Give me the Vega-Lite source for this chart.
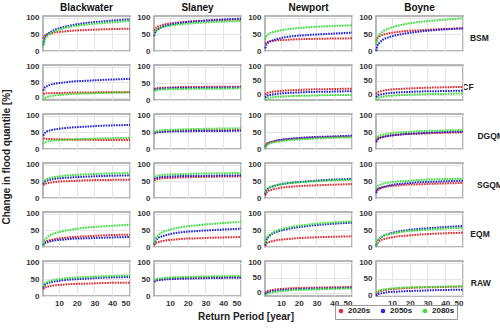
{
"$schema": "https://vega.github.io/schema/vega-lite/v6.json",
"padding": {"left": 1, "top": 3, "right": 40, "bottom": 2},
"bounds": "flush",
"data": {"values": [
{"m":"BSM","c":"Blackwater","p":"2020s","T":1.1,"v":38},{"m":"BSM","c":"Blackwater","p":"2020s","T":2,"v":46},{"m":"BSM","c":"Blackwater","p":"2020s","T":3,"v":49},{"m":"BSM","c":"Blackwater","p":"2020s","T":5,"v":52},{"m":"BSM","c":"Blackwater","p":"2020s","T":8,"v":56},{"m":"BSM","c":"Blackwater","p":"2020s","T":12,"v":58},{"m":"BSM","c":"Blackwater","p":"2020s","T":18,"v":61},{"m":"BSM","c":"Blackwater","p":"2020s","T":25,"v":63},{"m":"BSM","c":"Blackwater","p":"2020s","T":35,"v":65},{"m":"BSM","c":"Blackwater","p":"2020s","T":50,"v":67},
{"m":"BSM","c":"Blackwater","p":"2050s","T":1.1,"v":18},{"m":"BSM","c":"Blackwater","p":"2050s","T":2,"v":38},{"m":"BSM","c":"Blackwater","p":"2050s","T":3,"v":47},{"m":"BSM","c":"Blackwater","p":"2050s","T":5,"v":56},{"m":"BSM","c":"Blackwater","p":"2050s","T":8,"v":65},{"m":"BSM","c":"Blackwater","p":"2050s","T":12,"v":71},{"m":"BSM","c":"Blackwater","p":"2050s","T":18,"v":78},{"m":"BSM","c":"Blackwater","p":"2050s","T":25,"v":84},{"m":"BSM","c":"Blackwater","p":"2050s","T":35,"v":89},{"m":"BSM","c":"Blackwater","p":"2050s","T":50,"v":95},
{"m":"BSM","c":"Blackwater","p":"2080s","T":1.1,"v":15},{"m":"BSM","c":"Blackwater","p":"2080s","T":2,"v":35},{"m":"BSM","c":"Blackwater","p":"2080s","T":3,"v":43},{"m":"BSM","c":"Blackwater","p":"2080s","T":5,"v":52},{"m":"BSM","c":"Blackwater","p":"2080s","T":8,"v":60},{"m":"BSM","c":"Blackwater","p":"2080s","T":12,"v":67},{"m":"BSM","c":"Blackwater","p":"2080s","T":18,"v":74},{"m":"BSM","c":"Blackwater","p":"2080s","T":25,"v":79},{"m":"BSM","c":"Blackwater","p":"2080s","T":35,"v":84},{"m":"BSM","c":"Blackwater","p":"2080s","T":50,"v":90},
{"m":"BSM","c":"Slaney","p":"2020s","T":1.1,"v":60},{"m":"BSM","c":"Slaney","p":"2020s","T":2,"v":69},{"m":"BSM","c":"Slaney","p":"2020s","T":3,"v":73},{"m":"BSM","c":"Slaney","p":"2020s","T":5,"v":77},{"m":"BSM","c":"Slaney","p":"2020s","T":8,"v":81},{"m":"BSM","c":"Slaney","p":"2020s","T":12,"v":84},{"m":"BSM","c":"Slaney","p":"2020s","T":18,"v":87},{"m":"BSM","c":"Slaney","p":"2020s","T":25,"v":90},{"m":"BSM","c":"Slaney","p":"2020s","T":35,"v":92},{"m":"BSM","c":"Slaney","p":"2020s","T":50,"v":95},
{"m":"BSM","c":"Slaney","p":"2050s","T":1.1,"v":45},{"m":"BSM","c":"Slaney","p":"2050s","T":2,"v":59},{"m":"BSM","c":"Slaney","p":"2050s","T":3,"v":64},{"m":"BSM","c":"Slaney","p":"2050s","T":5,"v":71},{"m":"BSM","c":"Slaney","p":"2050s","T":8,"v":77},{"m":"BSM","c":"Slaney","p":"2050s","T":12,"v":81},{"m":"BSM","c":"Slaney","p":"2050s","T":18,"v":86},{"m":"BSM","c":"Slaney","p":"2050s","T":25,"v":89},{"m":"BSM","c":"Slaney","p":"2050s","T":35,"v":93},{"m":"BSM","c":"Slaney","p":"2050s","T":50,"v":97},
{"m":"BSM","c":"Slaney","p":"2080s","T":1.1,"v":50},{"m":"BSM","c":"Slaney","p":"2080s","T":2,"v":60},{"m":"BSM","c":"Slaney","p":"2080s","T":3,"v":65},{"m":"BSM","c":"Slaney","p":"2080s","T":5,"v":70},{"m":"BSM","c":"Slaney","p":"2080s","T":8,"v":74},{"m":"BSM","c":"Slaney","p":"2080s","T":12,"v":78},{"m":"BSM","c":"Slaney","p":"2080s","T":18,"v":81},{"m":"BSM","c":"Slaney","p":"2080s","T":25,"v":84},{"m":"BSM","c":"Slaney","p":"2080s","T":35,"v":87},{"m":"BSM","c":"Slaney","p":"2080s","T":50,"v":90},
{"m":"BSM","c":"Newport","p":"2020s","T":1.1,"v":22},{"m":"BSM","c":"Newport","p":"2020s","T":2,"v":26},{"m":"BSM","c":"Newport","p":"2020s","T":3,"v":28},{"m":"BSM","c":"Newport","p":"2020s","T":5,"v":30},{"m":"BSM","c":"Newport","p":"2020s","T":8,"v":32},{"m":"BSM","c":"Newport","p":"2020s","T":12,"v":33},{"m":"BSM","c":"Newport","p":"2020s","T":18,"v":35},{"m":"BSM","c":"Newport","p":"2020s","T":25,"v":36},{"m":"BSM","c":"Newport","p":"2020s","T":35,"v":37},{"m":"BSM","c":"Newport","p":"2020s","T":50,"v":38},
{"m":"BSM","c":"Newport","p":"2050s","T":1.1,"v":8},{"m":"BSM","c":"Newport","p":"2050s","T":2,"v":20},{"m":"BSM","c":"Newport","p":"2050s","T":3,"v":26},{"m":"BSM","c":"Newport","p":"2050s","T":5,"v":31},{"m":"BSM","c":"Newport","p":"2050s","T":8,"v":36},{"m":"BSM","c":"Newport","p":"2050s","T":12,"v":41},{"m":"BSM","c":"Newport","p":"2050s","T":18,"v":45},{"m":"BSM","c":"Newport","p":"2050s","T":25,"v":48},{"m":"BSM","c":"Newport","p":"2050s","T":35,"v":51},{"m":"BSM","c":"Newport","p":"2050s","T":50,"v":55},
{"m":"BSM","c":"Newport","p":"2080s","T":1.1,"v":35},{"m":"BSM","c":"Newport","p":"2080s","T":2,"v":46},{"m":"BSM","c":"Newport","p":"2080s","T":3,"v":51},{"m":"BSM","c":"Newport","p":"2080s","T":5,"v":56},{"m":"BSM","c":"Newport","p":"2080s","T":8,"v":60},{"m":"BSM","c":"Newport","p":"2080s","T":12,"v":64},{"m":"BSM","c":"Newport","p":"2080s","T":18,"v":68},{"m":"BSM","c":"Newport","p":"2080s","T":25,"v":71},{"m":"BSM","c":"Newport","p":"2080s","T":35,"v":74},{"m":"BSM","c":"Newport","p":"2080s","T":50,"v":77},
{"m":"BSM","c":"Boyne","p":"2020s","T":1.1,"v":30},{"m":"BSM","c":"Boyne","p":"2020s","T":2,"v":40},{"m":"BSM","c":"Boyne","p":"2020s","T":3,"v":44},{"m":"BSM","c":"Boyne","p":"2020s","T":5,"v":49},{"m":"BSM","c":"Boyne","p":"2020s","T":8,"v":53},{"m":"BSM","c":"Boyne","p":"2020s","T":12,"v":56},{"m":"BSM","c":"Boyne","p":"2020s","T":18,"v":60},{"m":"BSM","c":"Boyne","p":"2020s","T":25,"v":62},{"m":"BSM","c":"Boyne","p":"2020s","T":35,"v":65},{"m":"BSM","c":"Boyne","p":"2020s","T":50,"v":68},
{"m":"BSM","c":"Boyne","p":"2050s","T":1.1,"v":0},{"m":"BSM","c":"Boyne","p":"2050s","T":2,"v":18},{"m":"BSM","c":"Boyne","p":"2050s","T":3,"v":25},{"m":"BSM","c":"Boyne","p":"2050s","T":5,"v":34},{"m":"BSM","c":"Boyne","p":"2050s","T":8,"v":41},{"m":"BSM","c":"Boyne","p":"2050s","T":12,"v":47},{"m":"BSM","c":"Boyne","p":"2050s","T":18,"v":53},{"m":"BSM","c":"Boyne","p":"2050s","T":25,"v":58},{"m":"BSM","c":"Boyne","p":"2050s","T":35,"v":63},{"m":"BSM","c":"Boyne","p":"2050s","T":50,"v":68},
{"m":"BSM","c":"Boyne","p":"2080s","T":1.1,"v":20},{"m":"BSM","c":"Boyne","p":"2080s","T":2,"v":40},{"m":"BSM","c":"Boyne","p":"2080s","T":3,"v":49},{"m":"BSM","c":"Boyne","p":"2080s","T":5,"v":59},{"m":"BSM","c":"Boyne","p":"2080s","T":8,"v":67},{"m":"BSM","c":"Boyne","p":"2080s","T":12,"v":74},{"m":"BSM","c":"Boyne","p":"2080s","T":18,"v":81},{"m":"BSM","c":"Boyne","p":"2080s","T":25,"v":87},{"m":"BSM","c":"Boyne","p":"2080s","T":35,"v":92},{"m":"BSM","c":"Boyne","p":"2080s","T":50,"v":98},
{"m":"CF","c":"Blackwater","p":"2020s","T":1.1,"v":12},{"m":"CF","c":"Blackwater","p":"2020s","T":2,"v":13},{"m":"CF","c":"Blackwater","p":"2020s","T":3,"v":14},{"m":"CF","c":"Blackwater","p":"2020s","T":5,"v":14},{"m":"CF","c":"Blackwater","p":"2020s","T":8,"v":15},{"m":"CF","c":"Blackwater","p":"2020s","T":12,"v":15},{"m":"CF","c":"Blackwater","p":"2020s","T":18,"v":16},{"m":"CF","c":"Blackwater","p":"2020s","T":25,"v":16},{"m":"CF","c":"Blackwater","p":"2020s","T":35,"v":17},{"m":"CF","c":"Blackwater","p":"2020s","T":50,"v":17},
{"m":"CF","c":"Blackwater","p":"2050s","T":1.1,"v":22},{"m":"CF","c":"Blackwater","p":"2050s","T":2,"v":32},{"m":"CF","c":"Blackwater","p":"2050s","T":3,"v":36},{"m":"CF","c":"Blackwater","p":"2050s","T":5,"v":41},{"m":"CF","c":"Blackwater","p":"2050s","T":8,"v":45},{"m":"CF","c":"Blackwater","p":"2050s","T":12,"v":48},{"m":"CF","c":"Blackwater","p":"2050s","T":18,"v":52},{"m":"CF","c":"Blackwater","p":"2050s","T":25,"v":54},{"m":"CF","c":"Blackwater","p":"2050s","T":35,"v":57},{"m":"CF","c":"Blackwater","p":"2050s","T":50,"v":60},
{"m":"CF","c":"Blackwater","p":"2080s","T":1.1,"v":-8},{"m":"CF","c":"Blackwater","p":"2080s","T":2,"v":-2},{"m":"CF","c":"Blackwater","p":"2080s","T":3,"v":1},{"m":"CF","c":"Blackwater","p":"2080s","T":5,"v":4},{"m":"CF","c":"Blackwater","p":"2080s","T":8,"v":7},{"m":"CF","c":"Blackwater","p":"2080s","T":12,"v":9},{"m":"CF","c":"Blackwater","p":"2080s","T":18,"v":12},{"m":"CF","c":"Blackwater","p":"2080s","T":25,"v":13},{"m":"CF","c":"Blackwater","p":"2080s","T":35,"v":15},{"m":"CF","c":"Blackwater","p":"2080s","T":50,"v":17},
{"m":"CF","c":"Slaney","p":"2020s","T":1.1,"v":33},{"m":"CF","c":"Slaney","p":"2020s","T":2,"v":35},{"m":"CF","c":"Slaney","p":"2020s","T":3,"v":36},{"m":"CF","c":"Slaney","p":"2020s","T":5,"v":37},{"m":"CF","c":"Slaney","p":"2020s","T":8,"v":37},{"m":"CF","c":"Slaney","p":"2020s","T":12,"v":38},{"m":"CF","c":"Slaney","p":"2020s","T":18,"v":39},{"m":"CF","c":"Slaney","p":"2020s","T":25,"v":39},{"m":"CF","c":"Slaney","p":"2020s","T":35,"v":40},{"m":"CF","c":"Slaney","p":"2020s","T":50,"v":40},
{"m":"CF","c":"Slaney","p":"2050s","T":1.1,"v":30},{"m":"CF","c":"Slaney","p":"2050s","T":2,"v":32},{"m":"CF","c":"Slaney","p":"2050s","T":3,"v":33},{"m":"CF","c":"Slaney","p":"2050s","T":5,"v":34},{"m":"CF","c":"Slaney","p":"2050s","T":8,"v":35},{"m":"CF","c":"Slaney","p":"2050s","T":12,"v":36},{"m":"CF","c":"Slaney","p":"2050s","T":18,"v":36},{"m":"CF","c":"Slaney","p":"2050s","T":25,"v":37},{"m":"CF","c":"Slaney","p":"2050s","T":35,"v":37},{"m":"CF","c":"Slaney","p":"2050s","T":50,"v":38},
{"m":"CF","c":"Slaney","p":"2080s","T":1.1,"v":27},{"m":"CF","c":"Slaney","p":"2080s","T":2,"v":29},{"m":"CF","c":"Slaney","p":"2080s","T":3,"v":30},{"m":"CF","c":"Slaney","p":"2080s","T":5,"v":31},{"m":"CF","c":"Slaney","p":"2080s","T":8,"v":32},{"m":"CF","c":"Slaney","p":"2080s","T":12,"v":33},{"m":"CF","c":"Slaney","p":"2080s","T":18,"v":33},{"m":"CF","c":"Slaney","p":"2080s","T":25,"v":34},{"m":"CF","c":"Slaney","p":"2080s","T":35,"v":34},{"m":"CF","c":"Slaney","p":"2080s","T":50,"v":35},
{"m":"CF","c":"Newport","p":"2020s","T":1.1,"v":0},{"m":"CF","c":"Newport","p":"2020s","T":2,"v":6},{"m":"CF","c":"Newport","p":"2020s","T":3,"v":8},{"m":"CF","c":"Newport","p":"2020s","T":5,"v":11},{"m":"CF","c":"Newport","p":"2020s","T":8,"v":13},{"m":"CF","c":"Newport","p":"2020s","T":12,"v":15},{"m":"CF","c":"Newport","p":"2020s","T":18,"v":17},{"m":"CF","c":"Newport","p":"2020s","T":25,"v":19},{"m":"CF","c":"Newport","p":"2020s","T":35,"v":20},{"m":"CF","c":"Newport","p":"2020s","T":50,"v":22},
{"m":"CF","c":"Newport","p":"2050s","T":1.1,"v":-10},{"m":"CF","c":"Newport","p":"2050s","T":2,"v":-4},{"m":"CF","c":"Newport","p":"2050s","T":3,"v":-1},{"m":"CF","c":"Newport","p":"2050s","T":5,"v":1},{"m":"CF","c":"Newport","p":"2050s","T":8,"v":4},{"m":"CF","c":"Newport","p":"2050s","T":12,"v":6},{"m":"CF","c":"Newport","p":"2050s","T":18,"v":8},{"m":"CF","c":"Newport","p":"2050s","T":25,"v":10},{"m":"CF","c":"Newport","p":"2050s","T":35,"v":11},{"m":"CF","c":"Newport","p":"2050s","T":50,"v":13},
{"m":"CF","c":"Newport","p":"2080s","T":1.1,"v":-18},{"m":"CF","c":"Newport","p":"2080s","T":2,"v":-13},{"m":"CF","c":"Newport","p":"2080s","T":3,"v":-11},{"m":"CF","c":"Newport","p":"2080s","T":5,"v":-9},{"m":"CF","c":"Newport","p":"2080s","T":8,"v":-7},{"m":"CF","c":"Newport","p":"2080s","T":12,"v":-6},{"m":"CF","c":"Newport","p":"2080s","T":18,"v":-4},{"m":"CF","c":"Newport","p":"2080s","T":25,"v":-3},{"m":"CF","c":"Newport","p":"2080s","T":35,"v":-1},{"m":"CF","c":"Newport","p":"2080s","T":50,"v":0},
{"m":"CF","c":"Boyne","p":"2020s","T":1.1,"v":2},{"m":"CF","c":"Boyne","p":"2020s","T":2,"v":9},{"m":"CF","c":"Boyne","p":"2020s","T":3,"v":12},{"m":"CF","c":"Boyne","p":"2020s","T":5,"v":15},{"m":"CF","c":"Boyne","p":"2020s","T":8,"v":18},{"m":"CF","c":"Boyne","p":"2020s","T":12,"v":20},{"m":"CF","c":"Boyne","p":"2020s","T":18,"v":22},{"m":"CF","c":"Boyne","p":"2020s","T":25,"v":24},{"m":"CF","c":"Boyne","p":"2020s","T":35,"v":26},{"m":"CF","c":"Boyne","p":"2020s","T":50,"v":28},
{"m":"CF","c":"Boyne","p":"2050s","T":1.1,"v":-8},{"m":"CF","c":"Boyne","p":"2050s","T":2,"v":-2},{"m":"CF","c":"Boyne","p":"2050s","T":3,"v":1},{"m":"CF","c":"Boyne","p":"2050s","T":5,"v":3},{"m":"CF","c":"Boyne","p":"2050s","T":8,"v":6},{"m":"CF","c":"Boyne","p":"2050s","T":12,"v":8},{"m":"CF","c":"Boyne","p":"2050s","T":18,"v":10},{"m":"CF","c":"Boyne","p":"2050s","T":25,"v":12},{"m":"CF","c":"Boyne","p":"2050s","T":35,"v":13},{"m":"CF","c":"Boyne","p":"2050s","T":50,"v":15},
{"m":"CF","c":"Boyne","p":"2080s","T":1.1,"v":-18},{"m":"CF","c":"Boyne","p":"2080s","T":2,"v":-12},{"m":"CF","c":"Boyne","p":"2080s","T":3,"v":-9},{"m":"CF","c":"Boyne","p":"2080s","T":5,"v":-7},{"m":"CF","c":"Boyne","p":"2080s","T":8,"v":-4},{"m":"CF","c":"Boyne","p":"2080s","T":12,"v":-2},{"m":"CF","c":"Boyne","p":"2080s","T":18,"v":0},{"m":"CF","c":"Boyne","p":"2080s","T":25,"v":2},{"m":"CF","c":"Boyne","p":"2080s","T":35,"v":3},{"m":"CF","c":"Boyne","p":"2080s","T":50,"v":5},
{"m":"DGQM","c":"Blackwater","p":"2020s","T":1.1,"v":32},{"m":"DGQM","c":"Blackwater","p":"2020s","T":2,"v":31},{"m":"DGQM","c":"Blackwater","p":"2020s","T":3,"v":30},{"m":"DGQM","c":"Blackwater","p":"2020s","T":5,"v":30},{"m":"DGQM","c":"Blackwater","p":"2020s","T":8,"v":29},{"m":"DGQM","c":"Blackwater","p":"2020s","T":12,"v":29},{"m":"DGQM","c":"Blackwater","p":"2020s","T":18,"v":28},{"m":"DGQM","c":"Blackwater","p":"2020s","T":25,"v":28},{"m":"DGQM","c":"Blackwater","p":"2020s","T":35,"v":27},{"m":"DGQM","c":"Blackwater","p":"2020s","T":50,"v":27},
{"m":"DGQM","c":"Blackwater","p":"2050s","T":1.1,"v":40},{"m":"DGQM","c":"Blackwater","p":"2050s","T":2,"v":48},{"m":"DGQM","c":"Blackwater","p":"2050s","T":3,"v":52},{"m":"DGQM","c":"Blackwater","p":"2050s","T":5,"v":56},{"m":"DGQM","c":"Blackwater","p":"2050s","T":8,"v":59},{"m":"DGQM","c":"Blackwater","p":"2050s","T":12,"v":62},{"m":"DGQM","c":"Blackwater","p":"2050s","T":18,"v":65},{"m":"DGQM","c":"Blackwater","p":"2050s","T":25,"v":67},{"m":"DGQM","c":"Blackwater","p":"2050s","T":35,"v":70},{"m":"DGQM","c":"Blackwater","p":"2050s","T":50,"v":72},
{"m":"DGQM","c":"Blackwater","p":"2080s","T":1.1,"v":15},{"m":"DGQM","c":"Blackwater","p":"2080s","T":2,"v":20},{"m":"DGQM","c":"Blackwater","p":"2080s","T":3,"v":22},{"m":"DGQM","c":"Blackwater","p":"2080s","T":5,"v":24},{"m":"DGQM","c":"Blackwater","p":"2080s","T":8,"v":26},{"m":"DGQM","c":"Blackwater","p":"2080s","T":12,"v":27},{"m":"DGQM","c":"Blackwater","p":"2080s","T":18,"v":29},{"m":"DGQM","c":"Blackwater","p":"2080s","T":25,"v":30},{"m":"DGQM","c":"Blackwater","p":"2080s","T":35,"v":32},{"m":"DGQM","c":"Blackwater","p":"2080s","T":50,"v":33},
{"m":"DGQM","c":"Slaney","p":"2020s","T":1.1,"v":48},{"m":"DGQM","c":"Slaney","p":"2020s","T":2,"v":50},{"m":"DGQM","c":"Slaney","p":"2020s","T":3,"v":51},{"m":"DGQM","c":"Slaney","p":"2020s","T":5,"v":52},{"m":"DGQM","c":"Slaney","p":"2020s","T":8,"v":53},{"m":"DGQM","c":"Slaney","p":"2020s","T":12,"v":54},{"m":"DGQM","c":"Slaney","p":"2020s","T":18,"v":55},{"m":"DGQM","c":"Slaney","p":"2020s","T":25,"v":56},{"m":"DGQM","c":"Slaney","p":"2020s","T":35,"v":56},{"m":"DGQM","c":"Slaney","p":"2020s","T":50,"v":57},
{"m":"DGQM","c":"Slaney","p":"2050s","T":1.1,"v":47},{"m":"DGQM","c":"Slaney","p":"2050s","T":2,"v":49},{"m":"DGQM","c":"Slaney","p":"2050s","T":3,"v":50},{"m":"DGQM","c":"Slaney","p":"2050s","T":5,"v":51},{"m":"DGQM","c":"Slaney","p":"2050s","T":8,"v":52},{"m":"DGQM","c":"Slaney","p":"2050s","T":12,"v":53},{"m":"DGQM","c":"Slaney","p":"2050s","T":18,"v":53},{"m":"DGQM","c":"Slaney","p":"2050s","T":25,"v":54},{"m":"DGQM","c":"Slaney","p":"2050s","T":35,"v":54},{"m":"DGQM","c":"Slaney","p":"2050s","T":50,"v":55},
{"m":"DGQM","c":"Slaney","p":"2080s","T":1.1,"v":50},{"m":"DGQM","c":"Slaney","p":"2080s","T":2,"v":53},{"m":"DGQM","c":"Slaney","p":"2080s","T":3,"v":54},{"m":"DGQM","c":"Slaney","p":"2080s","T":5,"v":56},{"m":"DGQM","c":"Slaney","p":"2080s","T":8,"v":57},{"m":"DGQM","c":"Slaney","p":"2080s","T":12,"v":58},{"m":"DGQM","c":"Slaney","p":"2080s","T":18,"v":59},{"m":"DGQM","c":"Slaney","p":"2080s","T":25,"v":60},{"m":"DGQM","c":"Slaney","p":"2080s","T":35,"v":61},{"m":"DGQM","c":"Slaney","p":"2080s","T":50,"v":62},
{"m":"DGQM","c":"Newport","p":"2020s","T":1.1,"v":8},{"m":"DGQM","c":"Newport","p":"2020s","T":2,"v":16},{"m":"DGQM","c":"Newport","p":"2020s","T":3,"v":19},{"m":"DGQM","c":"Newport","p":"2020s","T":5,"v":22},{"m":"DGQM","c":"Newport","p":"2020s","T":8,"v":26},{"m":"DGQM","c":"Newport","p":"2020s","T":12,"v":28},{"m":"DGQM","c":"Newport","p":"2020s","T":18,"v":31},{"m":"DGQM","c":"Newport","p":"2020s","T":25,"v":33},{"m":"DGQM","c":"Newport","p":"2020s","T":35,"v":35},{"m":"DGQM","c":"Newport","p":"2020s","T":50,"v":37},
{"m":"DGQM","c":"Newport","p":"2050s","T":1.1,"v":3},{"m":"DGQM","c":"Newport","p":"2050s","T":2,"v":13},{"m":"DGQM","c":"Newport","p":"2050s","T":3,"v":17},{"m":"DGQM","c":"Newport","p":"2050s","T":5,"v":21},{"m":"DGQM","c":"Newport","p":"2050s","T":8,"v":25},{"m":"DGQM","c":"Newport","p":"2050s","T":12,"v":29},{"m":"DGQM","c":"Newport","p":"2050s","T":18,"v":32},{"m":"DGQM","c":"Newport","p":"2050s","T":25,"v":35},{"m":"DGQM","c":"Newport","p":"2050s","T":35,"v":37},{"m":"DGQM","c":"Newport","p":"2050s","T":50,"v":40},
{"m":"DGQM","c":"Newport","p":"2080s","T":1.1,"v":3},{"m":"DGQM","c":"Newport","p":"2080s","T":2,"v":11},{"m":"DGQM","c":"Newport","p":"2080s","T":3,"v":15},{"m":"DGQM","c":"Newport","p":"2080s","T":5,"v":19},{"m":"DGQM","c":"Newport","p":"2080s","T":8,"v":22},{"m":"DGQM","c":"Newport","p":"2080s","T":12,"v":25},{"m":"DGQM","c":"Newport","p":"2080s","T":18,"v":28},{"m":"DGQM","c":"Newport","p":"2080s","T":25,"v":30},{"m":"DGQM","c":"Newport","p":"2080s","T":35,"v":33},{"m":"DGQM","c":"Newport","p":"2080s","T":50,"v":35},
{"m":"DGQM","c":"Boyne","p":"2020s","T":1.1,"v":25},{"m":"DGQM","c":"Boyne","p":"2020s","T":2,"v":32},{"m":"DGQM","c":"Boyne","p":"2020s","T":3,"v":34},{"m":"DGQM","c":"Boyne","p":"2020s","T":5,"v":37},{"m":"DGQM","c":"Boyne","p":"2020s","T":8,"v":40},{"m":"DGQM","c":"Boyne","p":"2020s","T":12,"v":42},{"m":"DGQM","c":"Boyne","p":"2020s","T":18,"v":45},{"m":"DGQM","c":"Boyne","p":"2020s","T":25,"v":46},{"m":"DGQM","c":"Boyne","p":"2020s","T":35,"v":48},{"m":"DGQM","c":"Boyne","p":"2020s","T":50,"v":50},
{"m":"DGQM","c":"Boyne","p":"2050s","T":1.1,"v":20},{"m":"DGQM","c":"Boyne","p":"2050s","T":2,"v":28},{"m":"DGQM","c":"Boyne","p":"2050s","T":3,"v":32},{"m":"DGQM","c":"Boyne","p":"2050s","T":5,"v":36},{"m":"DGQM","c":"Boyne","p":"2050s","T":8,"v":39},{"m":"DGQM","c":"Boyne","p":"2050s","T":12,"v":42},{"m":"DGQM","c":"Boyne","p":"2050s","T":18,"v":45},{"m":"DGQM","c":"Boyne","p":"2050s","T":25,"v":47},{"m":"DGQM","c":"Boyne","p":"2050s","T":35,"v":50},{"m":"DGQM","c":"Boyne","p":"2050s","T":50,"v":52},
{"m":"DGQM","c":"Boyne","p":"2080s","T":1.1,"v":30},{"m":"DGQM","c":"Boyne","p":"2080s","T":2,"v":37},{"m":"DGQM","c":"Boyne","p":"2080s","T":3,"v":40},{"m":"DGQM","c":"Boyne","p":"2080s","T":5,"v":43},{"m":"DGQM","c":"Boyne","p":"2080s","T":8,"v":46},{"m":"DGQM","c":"Boyne","p":"2080s","T":12,"v":49},{"m":"DGQM","c":"Boyne","p":"2080s","T":18,"v":51},{"m":"DGQM","c":"Boyne","p":"2080s","T":25,"v":53},{"m":"DGQM","c":"Boyne","p":"2080s","T":35,"v":55},{"m":"DGQM","c":"Boyne","p":"2080s","T":50,"v":57},
{"m":"SGQM","c":"Blackwater","p":"2020s","T":1.1,"v":38},{"m":"SGQM","c":"Blackwater","p":"2020s","T":2,"v":42},{"m":"SGQM","c":"Blackwater","p":"2020s","T":3,"v":44},{"m":"SGQM","c":"Blackwater","p":"2020s","T":5,"v":46},{"m":"SGQM","c":"Blackwater","p":"2020s","T":8,"v":48},{"m":"SGQM","c":"Blackwater","p":"2020s","T":12,"v":50},{"m":"SGQM","c":"Blackwater","p":"2020s","T":18,"v":51},{"m":"SGQM","c":"Blackwater","p":"2020s","T":25,"v":53},{"m":"SGQM","c":"Blackwater","p":"2020s","T":35,"v":54},{"m":"SGQM","c":"Blackwater","p":"2020s","T":50,"v":55},
{"m":"SGQM","c":"Blackwater","p":"2050s","T":1.1,"v":42},{"m":"SGQM","c":"Blackwater","p":"2050s","T":2,"v":49},{"m":"SGQM","c":"Blackwater","p":"2050s","T":3,"v":52},{"m":"SGQM","c":"Blackwater","p":"2050s","T":5,"v":55},{"m":"SGQM","c":"Blackwater","p":"2050s","T":8,"v":58},{"m":"SGQM","c":"Blackwater","p":"2050s","T":12,"v":60},{"m":"SGQM","c":"Blackwater","p":"2050s","T":18,"v":62},{"m":"SGQM","c":"Blackwater","p":"2050s","T":25,"v":64},{"m":"SGQM","c":"Blackwater","p":"2050s","T":35,"v":66},{"m":"SGQM","c":"Blackwater","p":"2050s","T":50,"v":68},
{"m":"SGQM","c":"Blackwater","p":"2080s","T":1.1,"v":45},{"m":"SGQM","c":"Blackwater","p":"2080s","T":2,"v":53},{"m":"SGQM","c":"Blackwater","p":"2080s","T":3,"v":56},{"m":"SGQM","c":"Blackwater","p":"2080s","T":5,"v":60},{"m":"SGQM","c":"Blackwater","p":"2080s","T":8,"v":63},{"m":"SGQM","c":"Blackwater","p":"2080s","T":12,"v":66},{"m":"SGQM","c":"Blackwater","p":"2080s","T":18,"v":69},{"m":"SGQM","c":"Blackwater","p":"2080s","T":25,"v":71},{"m":"SGQM","c":"Blackwater","p":"2080s","T":35,"v":73},{"m":"SGQM","c":"Blackwater","p":"2080s","T":50,"v":75},
{"m":"SGQM","c":"Slaney","p":"2020s","T":1.1,"v":52},{"m":"SGQM","c":"Slaney","p":"2020s","T":2,"v":55},{"m":"SGQM","c":"Slaney","p":"2020s","T":3,"v":57},{"m":"SGQM","c":"Slaney","p":"2020s","T":5,"v":59},{"m":"SGQM","c":"Slaney","p":"2020s","T":8,"v":60},{"m":"SGQM","c":"Slaney","p":"2020s","T":12,"v":61},{"m":"SGQM","c":"Slaney","p":"2020s","T":18,"v":62},{"m":"SGQM","c":"Slaney","p":"2020s","T":25,"v":63},{"m":"SGQM","c":"Slaney","p":"2020s","T":35,"v":64},{"m":"SGQM","c":"Slaney","p":"2020s","T":50,"v":65},
{"m":"SGQM","c":"Slaney","p":"2050s","T":1.1,"v":57},{"m":"SGQM","c":"Slaney","p":"2050s","T":2,"v":60},{"m":"SGQM","c":"Slaney","p":"2050s","T":3,"v":61},{"m":"SGQM","c":"Slaney","p":"2050s","T":5,"v":63},{"m":"SGQM","c":"Slaney","p":"2050s","T":8,"v":64},{"m":"SGQM","c":"Slaney","p":"2050s","T":12,"v":65},{"m":"SGQM","c":"Slaney","p":"2050s","T":18,"v":66},{"m":"SGQM","c":"Slaney","p":"2050s","T":25,"v":66},{"m":"SGQM","c":"Slaney","p":"2050s","T":35,"v":67},{"m":"SGQM","c":"Slaney","p":"2050s","T":50,"v":68},
{"m":"SGQM","c":"Slaney","p":"2080s","T":1.1,"v":63},{"m":"SGQM","c":"Slaney","p":"2080s","T":2,"v":66},{"m":"SGQM","c":"Slaney","p":"2080s","T":3,"v":67},{"m":"SGQM","c":"Slaney","p":"2080s","T":5,"v":69},{"m":"SGQM","c":"Slaney","p":"2080s","T":8,"v":70},{"m":"SGQM","c":"Slaney","p":"2080s","T":12,"v":71},{"m":"SGQM","c":"Slaney","p":"2080s","T":18,"v":72},{"m":"SGQM","c":"Slaney","p":"2080s","T":25,"v":73},{"m":"SGQM","c":"Slaney","p":"2080s","T":35,"v":74},{"m":"SGQM","c":"Slaney","p":"2080s","T":50,"v":75},
{"m":"SGQM","c":"Newport","p":"2020s","T":1.1,"v":8},{"m":"SGQM","c":"Newport","p":"2020s","T":2,"v":17},{"m":"SGQM","c":"Newport","p":"2020s","T":3,"v":21},{"m":"SGQM","c":"Newport","p":"2020s","T":5,"v":25},{"m":"SGQM","c":"Newport","p":"2020s","T":8,"v":29},{"m":"SGQM","c":"Newport","p":"2020s","T":12,"v":32},{"m":"SGQM","c":"Newport","p":"2020s","T":18,"v":35},{"m":"SGQM","c":"Newport","p":"2020s","T":25,"v":37},{"m":"SGQM","c":"Newport","p":"2020s","T":35,"v":39},{"m":"SGQM","c":"Newport","p":"2020s","T":50,"v":42},
{"m":"SGQM","c":"Newport","p":"2050s","T":1.1,"v":12},{"m":"SGQM","c":"Newport","p":"2050s","T":2,"v":24},{"m":"SGQM","c":"Newport","p":"2050s","T":3,"v":29},{"m":"SGQM","c":"Newport","p":"2050s","T":5,"v":34},{"m":"SGQM","c":"Newport","p":"2050s","T":8,"v":39},{"m":"SGQM","c":"Newport","p":"2050s","T":12,"v":43},{"m":"SGQM","c":"Newport","p":"2050s","T":18,"v":47},{"m":"SGQM","c":"Newport","p":"2050s","T":25,"v":50},{"m":"SGQM","c":"Newport","p":"2050s","T":35,"v":54},{"m":"SGQM","c":"Newport","p":"2050s","T":50,"v":57},
{"m":"SGQM","c":"Newport","p":"2080s","T":1.1,"v":15},{"m":"SGQM","c":"Newport","p":"2080s","T":2,"v":25},{"m":"SGQM","c":"Newport","p":"2080s","T":3,"v":30},{"m":"SGQM","c":"Newport","p":"2080s","T":5,"v":35},{"m":"SGQM","c":"Newport","p":"2080s","T":8,"v":39},{"m":"SGQM","c":"Newport","p":"2080s","T":12,"v":43},{"m":"SGQM","c":"Newport","p":"2080s","T":18,"v":46},{"m":"SGQM","c":"Newport","p":"2080s","T":25,"v":49},{"m":"SGQM","c":"Newport","p":"2080s","T":35,"v":52},{"m":"SGQM","c":"Newport","p":"2080s","T":50,"v":55},
{"m":"SGQM","c":"Boyne","p":"2020s","T":1.1,"v":20},{"m":"SGQM","c":"Boyne","p":"2020s","T":2,"v":27},{"m":"SGQM","c":"Boyne","p":"2020s","T":3,"v":29},{"m":"SGQM","c":"Boyne","p":"2020s","T":5,"v":32},{"m":"SGQM","c":"Boyne","p":"2020s","T":8,"v":35},{"m":"SGQM","c":"Boyne","p":"2020s","T":12,"v":37},{"m":"SGQM","c":"Boyne","p":"2020s","T":18,"v":40},{"m":"SGQM","c":"Boyne","p":"2020s","T":25,"v":41},{"m":"SGQM","c":"Boyne","p":"2020s","T":35,"v":43},{"m":"SGQM","c":"Boyne","p":"2020s","T":50,"v":45},
{"m":"SGQM","c":"Boyne","p":"2050s","T":1.1,"v":15},{"m":"SGQM","c":"Boyne","p":"2050s","T":2,"v":25},{"m":"SGQM","c":"Boyne","p":"2050s","T":3,"v":29},{"m":"SGQM","c":"Boyne","p":"2050s","T":5,"v":33},{"m":"SGQM","c":"Boyne","p":"2050s","T":8,"v":37},{"m":"SGQM","c":"Boyne","p":"2050s","T":12,"v":41},{"m":"SGQM","c":"Boyne","p":"2050s","T":18,"v":44},{"m":"SGQM","c":"Boyne","p":"2050s","T":25,"v":47},{"m":"SGQM","c":"Boyne","p":"2050s","T":35,"v":49},{"m":"SGQM","c":"Boyne","p":"2050s","T":50,"v":52},
{"m":"SGQM","c":"Boyne","p":"2080s","T":1.1,"v":28},{"m":"SGQM","c":"Boyne","p":"2080s","T":2,"v":36},{"m":"SGQM","c":"Boyne","p":"2080s","T":3,"v":39},{"m":"SGQM","c":"Boyne","p":"2080s","T":5,"v":43},{"m":"SGQM","c":"Boyne","p":"2080s","T":8,"v":46},{"m":"SGQM","c":"Boyne","p":"2080s","T":12,"v":49},{"m":"SGQM","c":"Boyne","p":"2080s","T":18,"v":51},{"m":"SGQM","c":"Boyne","p":"2080s","T":25,"v":54},{"m":"SGQM","c":"Boyne","p":"2080s","T":35,"v":56},{"m":"SGQM","c":"Boyne","p":"2080s","T":50,"v":58},
{"m":"EQM","c":"Blackwater","p":"2020s","T":1.1,"v":5},{"m":"EQM","c":"Blackwater","p":"2020s","T":2,"v":13},{"m":"EQM","c":"Blackwater","p":"2020s","T":3,"v":17},{"m":"EQM","c":"Blackwater","p":"2020s","T":5,"v":21},{"m":"EQM","c":"Blackwater","p":"2020s","T":8,"v":24},{"m":"EQM","c":"Blackwater","p":"2020s","T":12,"v":27},{"m":"EQM","c":"Blackwater","p":"2020s","T":18,"v":30},{"m":"EQM","c":"Blackwater","p":"2020s","T":25,"v":32},{"m":"EQM","c":"Blackwater","p":"2020s","T":35,"v":35},{"m":"EQM","c":"Blackwater","p":"2020s","T":50,"v":37},
{"m":"EQM","c":"Blackwater","p":"2050s","T":1.1,"v":5},{"m":"EQM","c":"Blackwater","p":"2050s","T":2,"v":12},{"m":"EQM","c":"Blackwater","p":"2050s","T":3,"v":14},{"m":"EQM","c":"Blackwater","p":"2050s","T":5,"v":17},{"m":"EQM","c":"Blackwater","p":"2050s","T":8,"v":20},{"m":"EQM","c":"Blackwater","p":"2050s","T":12,"v":22},{"m":"EQM","c":"Blackwater","p":"2050s","T":18,"v":25},{"m":"EQM","c":"Blackwater","p":"2050s","T":25,"v":26},{"m":"EQM","c":"Blackwater","p":"2050s","T":35,"v":28},{"m":"EQM","c":"Blackwater","p":"2050s","T":50,"v":30},
{"m":"EQM","c":"Blackwater","p":"2080s","T":1.1,"v":3},{"m":"EQM","c":"Blackwater","p":"2080s","T":2,"v":20},{"m":"EQM","c":"Blackwater","p":"2080s","T":3,"v":27},{"m":"EQM","c":"Blackwater","p":"2080s","T":5,"v":35},{"m":"EQM","c":"Blackwater","p":"2080s","T":8,"v":42},{"m":"EQM","c":"Blackwater","p":"2080s","T":12,"v":47},{"m":"EQM","c":"Blackwater","p":"2080s","T":18,"v":53},{"m":"EQM","c":"Blackwater","p":"2080s","T":25,"v":58},{"m":"EQM","c":"Blackwater","p":"2080s","T":35,"v":62},{"m":"EQM","c":"Blackwater","p":"2080s","T":50,"v":67},
{"m":"EQM","c":"Slaney","p":"2020s","T":1.1,"v":5},{"m":"EQM","c":"Slaney","p":"2020s","T":2,"v":12},{"m":"EQM","c":"Slaney","p":"2020s","T":3,"v":14},{"m":"EQM","c":"Slaney","p":"2020s","T":5,"v":17},{"m":"EQM","c":"Slaney","p":"2020s","T":8,"v":20},{"m":"EQM","c":"Slaney","p":"2020s","T":12,"v":22},{"m":"EQM","c":"Slaney","p":"2020s","T":18,"v":25},{"m":"EQM","c":"Slaney","p":"2020s","T":25,"v":26},{"m":"EQM","c":"Slaney","p":"2020s","T":35,"v":28},{"m":"EQM","c":"Slaney","p":"2020s","T":50,"v":30},
{"m":"EQM","c":"Slaney","p":"2050s","T":1.1,"v":8},{"m":"EQM","c":"Slaney","p":"2050s","T":2,"v":20},{"m":"EQM","c":"Slaney","p":"2050s","T":3,"v":26},{"m":"EQM","c":"Slaney","p":"2050s","T":5,"v":31},{"m":"EQM","c":"Slaney","p":"2050s","T":8,"v":36},{"m":"EQM","c":"Slaney","p":"2050s","T":12,"v":41},{"m":"EQM","c":"Slaney","p":"2050s","T":18,"v":45},{"m":"EQM","c":"Slaney","p":"2050s","T":25,"v":48},{"m":"EQM","c":"Slaney","p":"2050s","T":35,"v":51},{"m":"EQM","c":"Slaney","p":"2050s","T":50,"v":55},
{"m":"EQM","c":"Slaney","p":"2080s","T":1.1,"v":10},{"m":"EQM","c":"Slaney","p":"2080s","T":2,"v":27},{"m":"EQM","c":"Slaney","p":"2080s","T":3,"v":34},{"m":"EQM","c":"Slaney","p":"2080s","T":5,"v":42},{"m":"EQM","c":"Slaney","p":"2080s","T":8,"v":49},{"m":"EQM","c":"Slaney","p":"2080s","T":12,"v":55},{"m":"EQM","c":"Slaney","p":"2080s","T":18,"v":61},{"m":"EQM","c":"Slaney","p":"2080s","T":25,"v":65},{"m":"EQM","c":"Slaney","p":"2080s","T":35,"v":70},{"m":"EQM","c":"Slaney","p":"2080s","T":50,"v":75},
{"m":"EQM","c":"Newport","p":"2020s","T":1.1,"v":3},{"m":"EQM","c":"Newport","p":"2020s","T":2,"v":11},{"m":"EQM","c":"Newport","p":"2020s","T":3,"v":14},{"m":"EQM","c":"Newport","p":"2020s","T":5,"v":17},{"m":"EQM","c":"Newport","p":"2020s","T":8,"v":21},{"m":"EQM","c":"Newport","p":"2020s","T":12,"v":23},{"m":"EQM","c":"Newport","p":"2020s","T":18,"v":26},{"m":"EQM","c":"Newport","p":"2020s","T":25,"v":28},{"m":"EQM","c":"Newport","p":"2020s","T":35,"v":30},{"m":"EQM","c":"Newport","p":"2020s","T":50,"v":32},
{"m":"EQM","c":"Newport","p":"2050s","T":1.1,"v":5},{"m":"EQM","c":"Newport","p":"2050s","T":2,"v":23},{"m":"EQM","c":"Newport","p":"2050s","T":3,"v":30},{"m":"EQM","c":"Newport","p":"2050s","T":5,"v":39},{"m":"EQM","c":"Newport","p":"2050s","T":8,"v":46},{"m":"EQM","c":"Newport","p":"2050s","T":12,"v":52},{"m":"EQM","c":"Newport","p":"2050s","T":18,"v":58},{"m":"EQM","c":"Newport","p":"2050s","T":25,"v":63},{"m":"EQM","c":"Newport","p":"2050s","T":35,"v":68},{"m":"EQM","c":"Newport","p":"2050s","T":50,"v":73},
{"m":"EQM","c":"Newport","p":"2080s","T":1.1,"v":8},{"m":"EQM","c":"Newport","p":"2080s","T":2,"v":26},{"m":"EQM","c":"Newport","p":"2080s","T":3,"v":34},{"m":"EQM","c":"Newport","p":"2080s","T":5,"v":42},{"m":"EQM","c":"Newport","p":"2080s","T":8,"v":50},{"m":"EQM","c":"Newport","p":"2080s","T":12,"v":56},{"m":"EQM","c":"Newport","p":"2080s","T":18,"v":62},{"m":"EQM","c":"Newport","p":"2080s","T":25,"v":67},{"m":"EQM","c":"Newport","p":"2080s","T":35,"v":72},{"m":"EQM","c":"Newport","p":"2080s","T":50,"v":77},
{"m":"EQM","c":"Boyne","p":"2020s","T":1.1,"v":3},{"m":"EQM","c":"Boyne","p":"2020s","T":2,"v":13},{"m":"EQM","c":"Boyne","p":"2020s","T":3,"v":18},{"m":"EQM","c":"Boyne","p":"2020s","T":5,"v":23},{"m":"EQM","c":"Boyne","p":"2020s","T":8,"v":27},{"m":"EQM","c":"Boyne","p":"2020s","T":12,"v":31},{"m":"EQM","c":"Boyne","p":"2020s","T":18,"v":34},{"m":"EQM","c":"Boyne","p":"2020s","T":25,"v":37},{"m":"EQM","c":"Boyne","p":"2020s","T":35,"v":40},{"m":"EQM","c":"Boyne","p":"2020s","T":50,"v":43},
{"m":"EQM","c":"Boyne","p":"2050s","T":1.1,"v":3},{"m":"EQM","c":"Boyne","p":"2050s","T":2,"v":19},{"m":"EQM","c":"Boyne","p":"2050s","T":3,"v":25},{"m":"EQM","c":"Boyne","p":"2050s","T":5,"v":33},{"m":"EQM","c":"Boyne","p":"2050s","T":8,"v":39},{"m":"EQM","c":"Boyne","p":"2050s","T":12,"v":45},{"m":"EQM","c":"Boyne","p":"2050s","T":18,"v":50},{"m":"EQM","c":"Boyne","p":"2050s","T":25,"v":54},{"m":"EQM","c":"Boyne","p":"2050s","T":35,"v":58},{"m":"EQM","c":"Boyne","p":"2050s","T":50,"v":63},
{"m":"EQM","c":"Boyne","p":"2080s","T":1.1,"v":3},{"m":"EQM","c":"Boyne","p":"2080s","T":2,"v":20},{"m":"EQM","c":"Boyne","p":"2080s","T":3,"v":27},{"m":"EQM","c":"Boyne","p":"2080s","T":5,"v":33},{"m":"EQM","c":"Boyne","p":"2080s","T":8,"v":38},{"m":"EQM","c":"Boyne","p":"2080s","T":12,"v":42},{"m":"EQM","c":"Boyne","p":"2080s","T":18,"v":47},{"m":"EQM","c":"Boyne","p":"2080s","T":25,"v":50},{"m":"EQM","c":"Boyne","p":"2080s","T":35,"v":54},{"m":"EQM","c":"Boyne","p":"2080s","T":50,"v":58},
{"m":"RAW","c":"Blackwater","p":"2020s","T":1.1,"v":20},{"m":"RAW","c":"Blackwater","p":"2020s","T":2,"v":25},{"m":"RAW","c":"Blackwater","p":"2020s","T":3,"v":27},{"m":"RAW","c":"Blackwater","p":"2020s","T":5,"v":30},{"m":"RAW","c":"Blackwater","p":"2020s","T":8,"v":32},{"m":"RAW","c":"Blackwater","p":"2020s","T":12,"v":34},{"m":"RAW","c":"Blackwater","p":"2020s","T":18,"v":36},{"m":"RAW","c":"Blackwater","p":"2020s","T":25,"v":37},{"m":"RAW","c":"Blackwater","p":"2020s","T":35,"v":39},{"m":"RAW","c":"Blackwater","p":"2020s","T":50,"v":40},
{"m":"RAW","c":"Blackwater","p":"2050s","T":1.1,"v":25},{"m":"RAW","c":"Blackwater","p":"2050s","T":2,"v":33},{"m":"RAW","c":"Blackwater","p":"2050s","T":3,"v":37},{"m":"RAW","c":"Blackwater","p":"2050s","T":5,"v":41},{"m":"RAW","c":"Blackwater","p":"2050s","T":8,"v":44},{"m":"RAW","c":"Blackwater","p":"2050s","T":12,"v":47},{"m":"RAW","c":"Blackwater","p":"2050s","T":18,"v":50},{"m":"RAW","c":"Blackwater","p":"2050s","T":25,"v":52},{"m":"RAW","c":"Blackwater","p":"2050s","T":35,"v":55},{"m":"RAW","c":"Blackwater","p":"2050s","T":50,"v":57},
{"m":"RAW","c":"Blackwater","p":"2080s","T":1.1,"v":28},{"m":"RAW","c":"Blackwater","p":"2080s","T":2,"v":37},{"m":"RAW","c":"Blackwater","p":"2080s","T":3,"v":41},{"m":"RAW","c":"Blackwater","p":"2080s","T":5,"v":45},{"m":"RAW","c":"Blackwater","p":"2080s","T":8,"v":49},{"m":"RAW","c":"Blackwater","p":"2080s","T":12,"v":52},{"m":"RAW","c":"Blackwater","p":"2080s","T":18,"v":55},{"m":"RAW","c":"Blackwater","p":"2080s","T":25,"v":57},{"m":"RAW","c":"Blackwater","p":"2080s","T":35,"v":59},{"m":"RAW","c":"Blackwater","p":"2080s","T":50,"v":62},
{"m":"RAW","c":"Slaney","p":"2020s","T":1.1,"v":45},{"m":"RAW","c":"Slaney","p":"2020s","T":2,"v":48},{"m":"RAW","c":"Slaney","p":"2020s","T":3,"v":49},{"m":"RAW","c":"Slaney","p":"2020s","T":5,"v":51},{"m":"RAW","c":"Slaney","p":"2020s","T":8,"v":52},{"m":"RAW","c":"Slaney","p":"2020s","T":12,"v":53},{"m":"RAW","c":"Slaney","p":"2020s","T":18,"v":54},{"m":"RAW","c":"Slaney","p":"2020s","T":25,"v":55},{"m":"RAW","c":"Slaney","p":"2020s","T":35,"v":56},{"m":"RAW","c":"Slaney","p":"2020s","T":50,"v":57},
{"m":"RAW","c":"Slaney","p":"2050s","T":1.1,"v":42},{"m":"RAW","c":"Slaney","p":"2050s","T":2,"v":45},{"m":"RAW","c":"Slaney","p":"2050s","T":3,"v":47},{"m":"RAW","c":"Slaney","p":"2050s","T":5,"v":48},{"m":"RAW","c":"Slaney","p":"2050s","T":8,"v":50},{"m":"RAW","c":"Slaney","p":"2050s","T":12,"v":51},{"m":"RAW","c":"Slaney","p":"2050s","T":18,"v":52},{"m":"RAW","c":"Slaney","p":"2050s","T":25,"v":53},{"m":"RAW","c":"Slaney","p":"2050s","T":35,"v":54},{"m":"RAW","c":"Slaney","p":"2050s","T":50,"v":55},
{"m":"RAW","c":"Slaney","p":"2080s","T":1.1,"v":47},{"m":"RAW","c":"Slaney","p":"2080s","T":2,"v":50},{"m":"RAW","c":"Slaney","p":"2080s","T":3,"v":52},{"m":"RAW","c":"Slaney","p":"2080s","T":5,"v":53},{"m":"RAW","c":"Slaney","p":"2080s","T":8,"v":55},{"m":"RAW","c":"Slaney","p":"2080s","T":12,"v":56},{"m":"RAW","c":"Slaney","p":"2080s","T":18,"v":57},{"m":"RAW","c":"Slaney","p":"2080s","T":25,"v":58},{"m":"RAW","c":"Slaney","p":"2080s","T":35,"v":59},{"m":"RAW","c":"Slaney","p":"2080s","T":50,"v":60},
{"m":"RAW","c":"Newport","p":"2020s","T":1.1,"v":0},{"m":"RAW","c":"Newport","p":"2020s","T":2,"v":5},{"m":"RAW","c":"Newport","p":"2020s","T":3,"v":7},{"m":"RAW","c":"Newport","p":"2020s","T":5,"v":10},{"m":"RAW","c":"Newport","p":"2020s","T":8,"v":12},{"m":"RAW","c":"Newport","p":"2020s","T":12,"v":14},{"m":"RAW","c":"Newport","p":"2020s","T":18,"v":16},{"m":"RAW","c":"Newport","p":"2020s","T":25,"v":17},{"m":"RAW","c":"Newport","p":"2020s","T":35,"v":18},{"m":"RAW","c":"Newport","p":"2020s","T":50,"v":20},
{"m":"RAW","c":"Newport","p":"2050s","T":1.1,"v":-5},{"m":"RAW","c":"Newport","p":"2050s","T":2,"v":1},{"m":"RAW","c":"Newport","p":"2050s","T":3,"v":3},{"m":"RAW","c":"Newport","p":"2050s","T":5,"v":6},{"m":"RAW","c":"Newport","p":"2050s","T":8,"v":8},{"m":"RAW","c":"Newport","p":"2050s","T":12,"v":10},{"m":"RAW","c":"Newport","p":"2050s","T":18,"v":12},{"m":"RAW","c":"Newport","p":"2050s","T":25,"v":14},{"m":"RAW","c":"Newport","p":"2050s","T":35,"v":15},{"m":"RAW","c":"Newport","p":"2050s","T":50,"v":17},
{"m":"RAW","c":"Newport","p":"2080s","T":1.1,"v":-10},{"m":"RAW","c":"Newport","p":"2080s","T":2,"v":-4},{"m":"RAW","c":"Newport","p":"2080s","T":3,"v":-1},{"m":"RAW","c":"Newport","p":"2080s","T":5,"v":2},{"m":"RAW","c":"Newport","p":"2080s","T":8,"v":5},{"m":"RAW","c":"Newport","p":"2080s","T":12,"v":7},{"m":"RAW","c":"Newport","p":"2080s","T":18,"v":10},{"m":"RAW","c":"Newport","p":"2080s","T":25,"v":11},{"m":"RAW","c":"Newport","p":"2080s","T":35,"v":13},{"m":"RAW","c":"Newport","p":"2080s","T":50,"v":15},
{"m":"RAW","c":"Boyne","p":"2020s","T":1.1,"v":3},{"m":"RAW","c":"Boyne","p":"2020s","T":2,"v":9},{"m":"RAW","c":"Boyne","p":"2020s","T":3,"v":12},{"m":"RAW","c":"Boyne","p":"2020s","T":5,"v":15},{"m":"RAW","c":"Boyne","p":"2020s","T":8,"v":18},{"m":"RAW","c":"Boyne","p":"2020s","T":12,"v":20},{"m":"RAW","c":"Boyne","p":"2020s","T":18,"v":22},{"m":"RAW","c":"Boyne","p":"2020s","T":25,"v":24},{"m":"RAW","c":"Boyne","p":"2020s","T":35,"v":25},{"m":"RAW","c":"Boyne","p":"2020s","T":50,"v":27},
{"m":"RAW","c":"Boyne","p":"2050s","T":1.1,"v":-2},{"m":"RAW","c":"Boyne","p":"2050s","T":2,"v":3},{"m":"RAW","c":"Boyne","p":"2050s","T":3,"v":5},{"m":"RAW","c":"Boyne","p":"2050s","T":5,"v":7},{"m":"RAW","c":"Boyne","p":"2050s","T":8,"v":10},{"m":"RAW","c":"Boyne","p":"2050s","T":12,"v":11},{"m":"RAW","c":"Boyne","p":"2050s","T":18,"v":13},{"m":"RAW","c":"Boyne","p":"2050s","T":25,"v":14},{"m":"RAW","c":"Boyne","p":"2050s","T":35,"v":16},{"m":"RAW","c":"Boyne","p":"2050s","T":50,"v":17},
{"m":"RAW","c":"Boyne","p":"2080s","T":1.1,"v":8},{"m":"RAW","c":"Boyne","p":"2080s","T":2,"v":13},{"m":"RAW","c":"Boyne","p":"2080s","T":3,"v":15},{"m":"RAW","c":"Boyne","p":"2080s","T":5,"v":18},{"m":"RAW","c":"Boyne","p":"2080s","T":8,"v":20},{"m":"RAW","c":"Boyne","p":"2080s","T":12,"v":22},{"m":"RAW","c":"Boyne","p":"2080s","T":18,"v":24},{"m":"RAW","c":"Boyne","p":"2080s","T":25,"v":25},{"m":"RAW","c":"Boyne","p":"2080s","T":35,"v":26},{"m":"RAW","c":"Boyne","p":"2080s","T":50,"v":28}
]},
"facet": {
  "row": {"field": "m", "type": "nominal", "sort": ["BSM","CF","DGQM","SGQM","EQM","RAW"],
    "header": {"title": "Change in flood quantile [%]", "titleOrient": "left", "titleFontSize": 10, "titleFontWeight": "bold", "titleColor": "#222", "titlePadding": 21,
      "labelOrient": "right", "labelAngle": 0, "labelAlign": "left", "labelBaseline": "top", "labelFontSize": 8.5, "labelFontWeight": "bold", "labelColor": "#222", "labelPadding": -12}},
  "column": {"field": "c", "type": "nominal", "sort": ["Blackwater","Slaney","Newport","Boyne"],
    "header": {"title": "Return Period [year]", "titleOrient": "bottom", "titleFontSize": 10, "titleFontWeight": "bold", "titleColor": "#222", "titlePadding": -5,
      "labelOrient": "top", "labelFontSize": 10, "labelFontWeight": "bold", "labelColor": "#111", "labelPadding": 3}}
},
"spacing": {"row": 14, "column": 24},
"resolve": {"scale": {"y": "independent"}},
"spec": {
  "width": 87,
  "height": 35,
  "mark": {"type": "line", "strokeDash": [1.6, 1], "strokeWidth": 2, "interpolate": "monotone"},
  "encoding": {
    "x": {"field": "T", "type": "quantitative", "scale": {"domain": [1, 50], "nice": false},
      "axis": {"values": [10, 20, 30, 40, 50], "title": null, "labelFontSize": 8, "labelFontWeight": "bold", "labelColor": "#333", "ticks": false, "domain": false, "labelPadding": 3, "gridColor": "#e4e4e4"}},
    "y": {"field": "v", "type": "quantitative", "scale": {"domainMax": 105, "zero": true, "nice": false},
      "axis": {"values": [0, 50, 100], "title": null, "labelFontSize": 8, "labelFontWeight": "bold", "labelColor": "#333", "ticks": false, "domain": false, "labelPadding": 4, "gridColor": "#e4e4e4"}},
    "color": {"field": "p", "type": "nominal",
      "scale": {"domain": ["2020s","2050s","2080s"], "range": ["#e8252a","#2424d8","#33e033"]},
      "legend": {"title": null, "orient": "none", "legendX": 292, "legendY": 289, "direction": "horizontal", "symbolType": "circle", "symbolSize": 4, "symbolStrokeWidth": 2.5, "labelFontSize": 8, "labelFontWeight": "bold", "labelColor": "#222", "labelOffset": 3, "strokeColor": "#999", "padding": 2, "columnPadding": 6}}
  }
},
"config": {
  "font": "Liberation Sans",
  "view": {"stroke": "#a0a0a0", "strokeWidth": 1.5}
}
}
